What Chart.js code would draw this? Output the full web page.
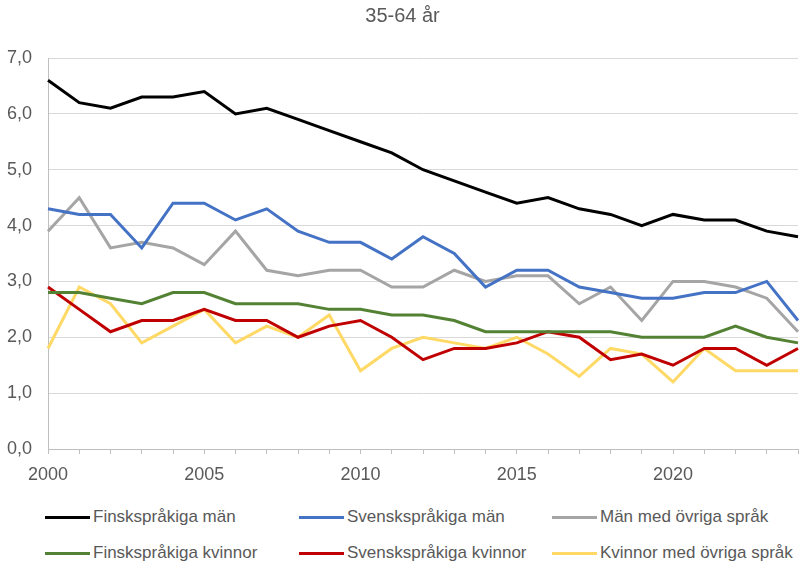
<!DOCTYPE html>
<html lang="sv">
<head>
    <meta charset="UTF-8">
    <title>35-64 år</title>
    <script src="https://cdn.jsdelivr.net/npm/chart.js"></script>
    <style>
        body {
            margin: 0;
            padding: 0;
            background: #fff;
            font-family: 'Liberation Sans', Arial, sans-serif;
        }

        .wrap {
            position: relative;
            width: 808px;
            height: 568px;
        }

        #chart {
            position: absolute;
            left: 0;
            top: 0;
        }

        .legend-item {
            position: absolute;
            display: flex;
            align-items: center;
            height: 20px;
            font-size: 17px;
            color: #595959;
            white-space: nowrap;
        }

        .legend-item span.swatch {
            display: inline-block;
            width: 45px;
            height: 3px;
            margin-right: 3px;
        }
    </style>
</head>
<body>
    <div class="wrap">
        <canvas id="chart" width="808" height="490"></canvas>
        <div id="legend"></div>
    </div>

    <script>
        // data
        const years = ['2000', '2001', '2002', '2003', '2004', '2005', '2006', '2007', '2008', '2009',
            '2010', '2011', '2012', '2013', '2014', '2015', '2016', '2017', '2018', '2019',
            '2020', '2021', '2022', '2023', '2024'];

        const finskMan = [6.6, 6.2, 6.1, 6.3, 6.3, 6.4, 6.0, 6.1, 5.9, 5.7, 5.5, 5.3, 5.0, 4.8, 4.6, 4.4, 4.5, 4.3, 4.2, 4.0, 4.2, 4.1, 4.1, 3.9, 3.8];
        const svenskMan = [4.3, 4.2, 4.2, 3.6, 4.4, 4.4, 4.1, 4.3, 3.9, 3.7, 3.7, 3.4, 3.8, 3.5, 2.9, 3.2, 3.2, 2.9, 2.8, 2.7, 2.7, 2.8, 2.8, 3.0, 2.3];
        const ovrigaMan = [3.9, 4.5, 3.6, 3.7, 3.6, 3.3, 3.9, 3.2, 3.1, 3.2, 3.2, 2.9, 2.9, 3.2, 3.0, 3.1, 3.1, 2.6, 2.9, 2.3, 3.0, 3.0, 2.9, 2.7, 2.1];
        const finskKvinnor = [2.8, 2.8, 2.7, 2.6, 2.8, 2.8, 2.6, 2.6, 2.6, 2.5, 2.5, 2.4, 2.4, 2.3, 2.1, 2.1, 2.1, 2.1, 2.1, 2.0, 2.0, 2.0, 2.2, 2.0, 1.9];
        const svenskKvinnor = [2.9, 2.5, 2.1, 2.3, 2.3, 2.5, 2.3, 2.3, 2.0, 2.2, 2.3, 2.0, 1.6, 1.8, 1.8, 1.9, 2.1, 2.0, 1.6, 1.7, 1.5, 1.8, 1.8, 1.5, 1.8];
        const ovrigaKvinnor = [1.8, 2.9, 2.6, 1.9, 2.2, 2.5, 1.9, 2.2, 2.0, 2.4, 1.4, 1.8, 2.0, 1.9, 1.8, 2.0, 1.7, 1.3, 1.8, 1.7, 1.2, 1.8, 1.4, 1.4, 1.4];

        const seriesNames = ['Finskspråkiga män', 'Svenskspråkiga män', 'Män med övriga språk',
            'Finskspråkiga kvinnor', 'Svenskspråkiga kvinnor', 'Kvinnor med övriga språk'];
        const seriesColors = ['#000000', '#4472C4', '#A5A5A5', '#548235', '#C00000', '#FFD966'];
        const seriesData = [finskMan, svenskMan, ovrigaMan, finskKvinnor, svenskKvinnor, ovrigaKvinnor];

        const yTicks = [0, 1, 2, 3, 4, 5, 6, 7];

        const textColor = '#595959';
        const fontFamily = "'Liberation Sans', Arial, sans-serif";

        // line chart
        const ctx = document.getElementById('chart').getContext('2d');
        new Chart(ctx, {
            type: 'line',
            data: {
                labels: years,
                datasets: seriesNames.map((name, i) => ({
                    label: name,
                    data: seriesData[i],
                    borderColor: seriesColors[i],
                    backgroundColor: seriesColors[i],
                    borderWidth: 3,
                    pointRadius: 0,
                    tension: 0,
                    fill: false
                }))
            },
            options: {
                responsive: false,
                animation: false,
                layout: {
                    padding: { left: 0, right: 3, top: 0, bottom: 0 }
                },
                plugins: {
                    legend: { display: false },
                    tooltip: { enabled: false },
                    title: {
                        display: true,
                        text: '35-64 år',
                        color: textColor,
                        font: { family: fontFamily, size: 20, weight: 'normal' },
                        padding: { top: 4, bottom: 30 }
                    }
                },
                scales: {
                    x: {
                        offset: false,
                        grid: {
                            display: true,
                            drawOnChartArea: false,
                            drawTicks: true,
                            tickLength: 5,
                            color: '#BFBFBF'
                        },
                        border: { color: '#BFBFBF', width: 1 },
                        ticks: {
                            autoSkip: false,
                            maxRotation: 0,
                            color: textColor,
                            padding: 10,
                            font: { family: fontFamily, size: 18 },
                            callback: function (value, index) {
                                const y = years[index];
                                return Number(y) % 5 === 0 ? y : '';
                            }
                        },
                        afterFit: function (scale) { scale.height = 41; }
                    },
                    y: {
                        min: yTicks[0],
                        max: yTicks[yTicks.length - 1],
                        afterBuildTicks: function (scale) {
                            scale.ticks = yTicks.map(v => ({ value: v }));
                        },
                        grid: {
                            color: '#D9D9D9',
                            drawTicks: false,
                            lineWidth: 1
                        },
                        border: { color: '#BFBFBF', width: 1 },
                        ticks: {
                            color: textColor,
                            padding: 16,
                            font: { family: fontFamily, size: 18 },
                            callback: v => v.toFixed(1).replace('.', ',')
                        },
                        afterFit: function (scale) { scale.width = 48; }
                    }
                }
            }
        });

        // legend, 3 columns x 2 rows
        const legendCols = [45, 299, 552];
        const legendRows = [517, 553];
        const legendEl = document.getElementById('legend');
        seriesNames.forEach((name, i) => {
            const item = document.createElement('div');
            item.className = 'legend-item';
            item.style.left = legendCols[i % 3] + 'px';
            item.style.top = (legendRows[Math.floor(i / 3)] - 10) + 'px';
            const sw = document.createElement('span');
            sw.className = 'swatch';
            sw.style.background = seriesColors[i];
            item.appendChild(sw);
            item.appendChild(document.createTextNode(name));
            legendEl.appendChild(item);
        });
    </script>
</body>
</html>
